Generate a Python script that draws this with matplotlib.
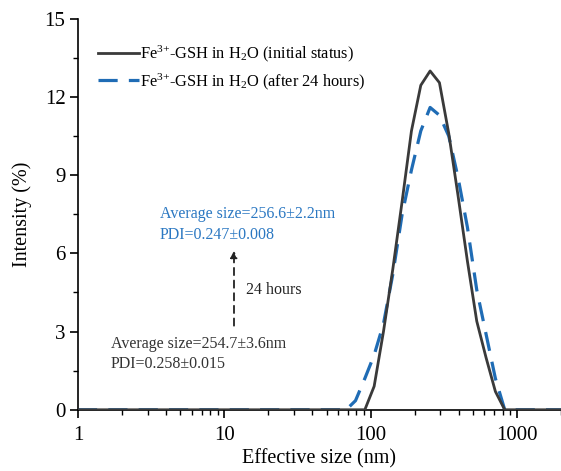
import matplotlib
matplotlib.use('Agg')
import matplotlib.pyplot as plt
from matplotlib.ticker import MultipleLocator, FixedLocator, LogLocator, NullFormatter

plt.rcParams['font.family'] = ['Liberation Serif', 'DejaVu Serif']
plt.rcParams['mathtext.fontset'] = 'custom'
plt.rcParams['mathtext.rm'] = 'Liberation Serif'
plt.rcParams['mathtext.default'] = 'regular'

# DLS size bins (nm) and intensity (%)
sizes = [1, 58.77, 68.06, 78.82, 91.28, 105.7, 122.4, 141.8, 164.2, 190.1, 220.2,
         255.0, 295.3, 342.0, 396.1, 458.7, 531.2, 615.1, 712.4, 825.0, 955.4, 2000]
initial = [0, 0, 0, 0, 0, 0.9, 3.0, 5.4, 8.0, 10.7, 12.45,
           13.0, 12.55, 10.6, 8.2, 5.7, 3.4, 2.0, 0.7, 0, 0, 0]
after_24h = [0, 0, 0, 0.35, 1.2, 2.1, 3.3, 5.2, 7.5, 9.2, 10.7,
             11.6, 11.3, 10.5, 8.9, 7.0, 4.6, 2.9, 1.2, 0, 0, 0]

label_initial = 'Fe$^{3{+}}$-GSH in H$_2$O (initial status)'
label_after = 'Fe$^{3{+}}$-GSH in H$_2$O (after 24 hours)'
text_after = 'Average size=256.6\u00b12.2nm\nPDI=0.247\u00b10.008'
text_initial = 'Average size=254.7\u00b13.6nm\nPDI=0.258\u00b10.015'

fig = plt.figure(figsize=(5.61, 4.71), dpi=100)
ax = fig.add_axes([0.139, 0.130, 0.861, 0.830])

ax.plot(sizes, after_24h, color='#1f6cb5', linewidth=2.3, dashes=(6, 3.5), label=label_after, zorder=2)
ax.plot(sizes, initial, color='#3a3a3a', linewidth=2.0, label=label_initial, zorder=3)

ax.set_xscale('log')
ax.set_xlim(1, 2000)
ax.set_ylim(0, 15)
ax.xaxis.set_major_locator(FixedLocator([1, 10, 100, 1000]))
ax.xaxis.set_major_formatter(plt.FixedFormatter(['1', '10', '100', '1000']))
ax.xaxis.set_minor_locator(LogLocator(base=10, subs=range(2, 10)))
ax.xaxis.set_minor_formatter(NullFormatter())
ax.yaxis.set_major_locator(MultipleLocator(3))
ax.yaxis.set_minor_locator(MultipleLocator(1.5))

ax.spines['top'].set_visible(False)
ax.spines['right'].set_visible(False)
for s in ['left', 'bottom']:
    ax.spines[s].set_linewidth(1.2)
ax.tick_params(which='major', direction='out', length=6, width=1.2, labelsize=15, pad=3)
ax.tick_params(axis='x', which='major', pad=6)
ax.tick_params(which='minor', direction='out', length=3.5, width=1.0)

ax.set_xlabel('Effective size (nm)', fontsize=14.5, labelpad=2.5)
ax.set_ylabel('Intensity (%)', fontsize=14.5, labelpad=9)

handles, labels = ax.get_legend_handles_labels()
ax.legend(handles[::-1], labels[::-1], loc='upper left', bbox_to_anchor=(0.01, 0.975),
          frameon=False, fontsize=11.8, handlelength=2.5, handletextpad=0.1, labelspacing=0.45)

ax.text(0.17, 0.474, text_after, transform=ax.transAxes, color='#2b78c2',
        fontsize=11.5, va='center', ha='left', linespacing=1.35)
ax.text(0.068, 0.142, text_initial, transform=ax.transAxes, color='#333333',
        fontsize=11.5, va='center', ha='left', linespacing=1.35)
ax.text(0.348, 0.306, '24 hours', transform=ax.transAxes, color='#222222',
        fontsize=11.5, va='center', ha='left')
ax.annotate('', xy=(0.323, 0.414), xytext=(0.323, 0.208), xycoords='axes fraction',
            arrowprops=dict(arrowstyle='-|>', linestyle=(0, (4, 3)), color='#222222',
                            lw=1.3, mutation_scale=10))

fig.savefig('out.png', dpi=100)
